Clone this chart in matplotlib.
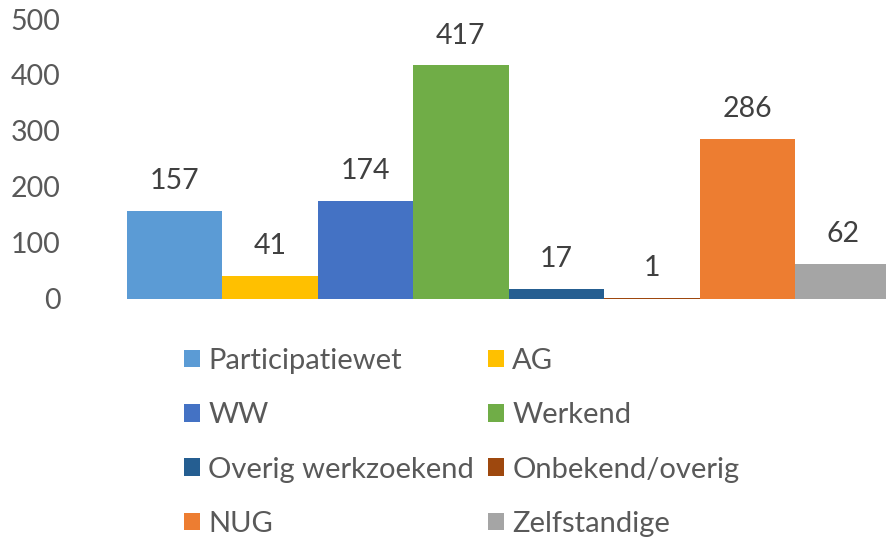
import matplotlib
matplotlib.use("Agg")
import matplotlib.pyplot as plt

categories = ["Participatiewet", "AG", "WW", "Werkend", "Overig werkzoekend",
              "Onbekend/overig", "NUG", "Zelfstandige"]
values = [157, 41, 174, 417, 17, 1, 286, 62]
colors = ["#5B9BD5", "#FFC000", "#4472C4", "#70AD47", "#255E91",
          "#9E480E", "#ED7D31", "#A5A5A5"]
yticks = [0, 100, 200, 300, 400, 500]

plt.rcParams['font.family'] = ['Lato', 'DejaVu Sans']

W, H = 886, 540
fig = plt.figure(figsize=(W / 100, H / 100), dpi=100)
ax_left = 80
bar_start = 126.5
bar_w = 95.5
y0 = 298.5
ytop = 19
ax = fig.add_axes([ax_left / W, (H - y0) / H, 1 - ax_left / W, (y0 - ytop) / H])

handles = []
for i, (c, v, col) in enumerate(zip(categories, values, colors)):
    b = ax.bar(i, v, width=1.0, align='edge', color=col, label=c)
    handles.append(b)
    ax.annotate(str(v), xy=(i + 0.5, v), xytext=(0, 21.5), textcoords='offset points',
                ha='center', va='center', fontsize=20.5, color='#404040')

ax.set_xlim(-(bar_start - ax_left) / bar_w, (W - bar_start) / bar_w)
ax.set_ylim(0, 500)
ax.set_yticks(yticks)
ax.set_yticklabels([str(t) for t in yticks])
ax.set_xticks([])
for s in ax.spines.values():
    s.set_visible(False)
ax.tick_params(axis='y', length=0, labelsize=20.5, labelcolor='#595959', pad=14)

order = [0, 2, 4, 6, 1, 3, 5, 7]
leg = fig.legend([handles[i] for i in order], [categories[i] for i in order],
                 ncol=2, loc='upper left', bbox_to_anchor=(184 / W, 1 - 348 / H),
                 frameon=False, fontsize=21, labelcolor='#595959',
                 handlelength=0.55, handleheight=0.55, handletextpad=0.28,
                 columnspacing=0.48, labelspacing=0.97, borderpad=0, borderaxespad=0)

fig.savefig("out.png", dpi=100)
